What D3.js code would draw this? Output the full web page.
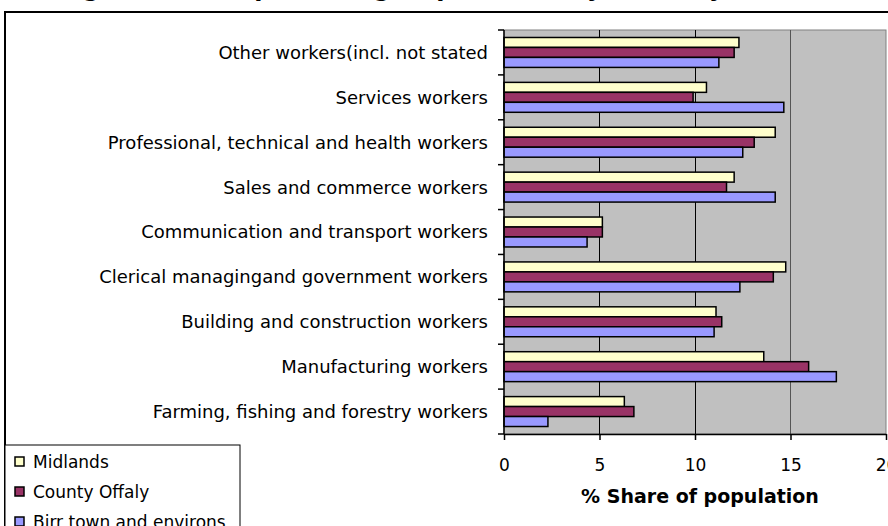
<!DOCTYPE html>
<html>
<head>
<meta charset="utf-8">
<script src="https://cdn.jsdelivr.net/npm/d3@7/dist/d3.min.js"></script>
<style>
  html, body { margin: 0; padding: 0; background: #fff; overflow: hidden; }
  svg { display: block; }
  text { font-family: "DejaVu Sans", sans-serif; fill: #000; }
</style>
</head>
<body>
<div id="chart"></div>
<script>
// categories, top to bottom as drawn
const categories = [
    'Other workers(incl. not stated',
    'Services workers',
    'Professional, technical and health workers',
    'Sales and commerce workers',
    'Communication and transport workers',
    'Clerical managingand government workers',
    'Building and construction workers',
    'Manufacturing workers',
    'Farming, fishing and forestry workers'
];
const seriesNames = ['Midlands', 'County Offaly', 'Birr town and environs'];
const seriesColours = ['#ffffcc', '#993366', '#9999ff'];

// % share of population
const midlands = [12.3, 10.6, 14.2, 12.05, 5.15, 14.75, 11.1, 13.6, 6.3];
const offaly = [12.05, 9.9, 13.1, 11.65, 5.15, 14.1, 11.4, 15.95, 6.8];
const birr = [11.25, 14.65, 12.5, 14.2, 4.35, 12.35, 11.0, 17.4, 2.3];

const xTicks = [0, 5, 10, 15, 20];

const W = 888, H = 526;
const plot = { left: 504, right: 886, top: 30, bottom: 434 };

const svg = d3.select('#chart').append('svg')
    .attr('width', W)
    .attr('height', H);

/* ------------------------------ title (cut off) ----------------------------- */
svg.append('text')
    .attr('x', 440)
    .attr('y', -4)
    .attr('text-anchor', 'middle')
    .style('font-weight', 'bold')
    .style('font-size', '24px')
    .text('Figure 4: Occupational groups of Birr by Industry (2002)');

// outer chart frame, runs past the right and bottom edges
svg.append('rect')
    .attr('x', 5)
    .attr('y', 12)
    .attr('width', 1000)
    .attr('height', 700)
    .attr('fill', 'none')
    .attr('stroke', '#000')
    .attr('stroke-width', 2);

/* --------------------------------- scales -------------------------------- */
const x = d3.scaleLinear()
    .domain([0, 20])
    .range([plot.left, plot.right]);

const y = d3.scaleBand()
    .domain(categories)
    .range([plot.top, plot.bottom])
    .paddingInner(1 / 3)
    .paddingOuter(1 / 6);

const ySub = d3.scaleBand()
    .domain(seriesNames)
    .range([0, y.bandwidth()]);

const data = categories.map((c, i) => ({
    category: c,
    values: [midlands[i], offaly[i], birr[i]].map((v, j) => ({ series: seriesNames[j], value: v, colour: seriesColours[j] }))
}));

/* ------------------------------ plot area -------------------------------- */
svg.append('rect')
    .attr('x', plot.left)
    .attr('y', plot.top)
    .attr('width', plot.right - plot.left)
    .attr('height', plot.bottom - plot.top)
    .attr('fill', '#c0c0c0')
    .attr('stroke', '#808080')
    .attr('stroke-width', 1);

svg.append('g')
    .selectAll('line')
    .data(xTicks.filter(t => t > 0 && t < 20))
    .enter()
    .append('line')
    .attr('x1', d => x(d))
    .attr('x2', d => x(d))
    .attr('y1', plot.top)
    .attr('y2', plot.bottom)
    .attr('stroke', d => d === 15 ? '#555' : '#000')
    .attr('stroke-width', d => d === 15 ? 1.5 : 1)
    .attr('shape-rendering', 'crispEdges');

/* --------------------------------- bars ---------------------------------- */
const groups = svg.append('g')
    .selectAll('g')
    .data(data)
    .enter()
    .append('g')
    .attr('transform', d => `translate(0,${y(d.category)})`);

groups.selectAll('rect')
    .data(d => d.values)
    .enter()
    .append('rect')
    .attr('x', x(0))
    .attr('y', d => ySub(d.series))
    .attr('width', d => x(d.value) - x(0))
    .attr('height', ySub.bandwidth())
    .attr('fill', d => d.colour)
    .attr('stroke', '#000')
    .attr('stroke-width', 1.5);

/* --------------------------------- axes ---------------------------------- */
// category axis: ticks sit on the band boundaries
const yAxis = svg.append('g');
yAxis.append('line')
    .attr('x1', plot.left).attr('x2', plot.left)
    .attr('y1', plot.top).attr('y2', plot.bottom)
    .attr('stroke', '#000').attr('stroke-width', 1.5);
yAxis.selectAll('.bound')
    .data(d3.range(categories.length + 1))
    .enter()
    .append('line')
    .attr('class', 'bound')
    .attr('x1', plot.left - 6).attr('x2', plot.left)
    .attr('y1', i => plot.top + i * y.step())
    .attr('y2', i => plot.top + i * y.step())
    .attr('stroke', '#000')
    .attr('stroke-width', 1.5);
yAxis.selectAll('.lbl')
    .data(categories)
    .enter()
    .append('text')
    .attr('class', 'lbl')
    .attr('x', 488)
    .attr('y', d => y(d) + y.bandwidth() / 2)
    .attr('dy', '0.36em')
    .attr('text-anchor', 'end')
    .style('font-size', '18px')
    .text(d => d);

const xAxis = d3.axisBottom(x)
    .tickValues(xTicks)
    .tickSize(6)
    .tickSizeOuter(0)
    .tickPadding(19)
    .tickFormat(d3.format('d'));

svg.append('g')
    .attr('transform', `translate(0,${plot.bottom})`)
    .call(xAxis)
    .call(g => g.selectAll('path, line').attr('stroke', '#000').attr('stroke-width', 1.5))
    .call(g => g.selectAll('text')
        .style('font-family', '"DejaVu Sans", sans-serif')
        .style('font-size', '17px')
        .attr('fill', '#000'));

svg.append('text')
    .attr('x', 700)
    .attr('y', 503)
    .attr('text-anchor', 'middle')
    .style('font-weight', 'bold')
    .style('font-size', '19px')
    .text('% Share of population');

/* -------------------------------- legend --------------------------------- */
svg.append('rect')
    .attr('x', 5)
    .attr('y', 445)
    .attr('width', 235)
    .attr('height', 200)
    .attr('fill', '#fff')
    .attr('stroke', '#000')
    .attr('stroke-width', 1);

const legendItems = svg.append('g')
    .selectAll('g')
    .data(seriesNames)
    .enter()
    .append('g')
    .attr('transform', (d, i) => `translate(15,${462 + i * 30})`);

legendItems.append('rect')
    .attr('x', 0)
    .attr('y', -5)
    .attr('width', 9)
    .attr('height', 9)
    .attr('fill', (d, i) => seriesColours[i])
    .attr('stroke', '#000')
    .attr('stroke-width', 1.5);

legendItems.append('text')
    .attr('x', 18)
    .attr('dy', '0.36em')
    .style('font-size', '17px')
    .text(d => d);
</script>
</body>
</html>
